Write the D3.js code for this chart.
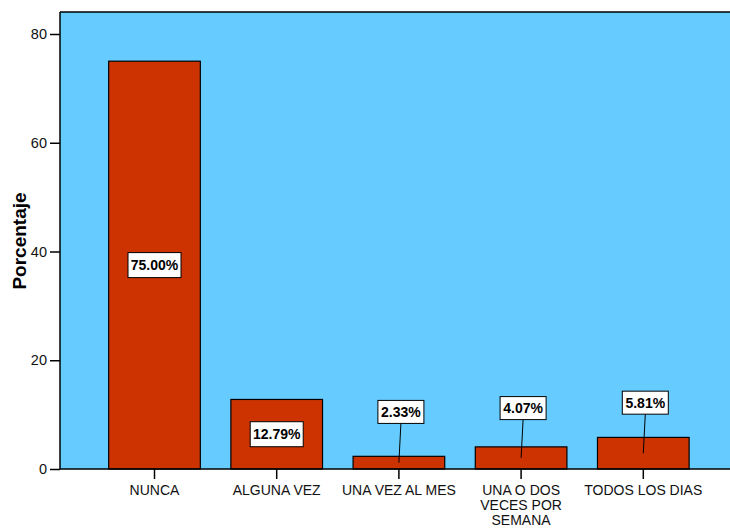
<!DOCTYPE html>
<html><head><meta charset="utf-8">
<script src="https://cdn.jsdelivr.net/npm/d3@7"></script>
<style>body{margin:0;background:#fff}svg{display:block}</style>
</head><body>
<svg id="c" width="730" height="528"></svg>
<script>
const categories = ["NUNCA", "ALGUNA VEZ", "UNA VEZ AL MES", "UNA O DOS VECES POR SEMANA", "TODOS LOS DIAS"];
const categoryLines = [["NUNCA"], ["ALGUNA VEZ"], ["UNA VEZ AL MES"], ["UNA O DOS", "VECES POR", "SEMANA"], ["TODOS LOS DIAS"]];
const values = [75.00, 12.79, 2.33, 4.07, 5.81];
const valueLabels = ["75.00%", "12.79%", "2.33%", "4.07%", "5.81%"];
const yTicks = [0, 20, 40, 60, 80];

const svg = d3.select("#c");
const L = 60, R = 730, T = 12, B = 469;
const font = "Arial, 'Liberation Sans', sans-serif";

const x = d3.scaleBand().domain(categories).range([93.4, 704.4]).paddingInner(0.25).paddingOuter(0.125);
const y = d3.scaleLinear().domain([0, 84]).range([B, B - 84 * (435 / 80)]);

svg.append("rect").attr("x", L).attr("y", T).attr("width", R - L).attr("height", B - T)
  .attr("fill", "#66CCFF");
svg.append("line").attr("x1", L).attr("x2", R).attr("y1", T).attr("y2", T).attr("stroke", "#000").attr("stroke-width", 1.5);

svg.selectAll("rect.bar").data(values).join("rect").attr("class", "bar")
  .attr("x", (d, i) => x(categories[i]))
  .attr("width", x.bandwidth())
  .attr("y", d => y(d))
  .attr("height", d => B - y(d))
  .attr("fill", "#CC3300").attr("stroke", "#000").attr("stroke-width", 1.2);

// y axis
const ya = svg.append("g").attr("transform", `translate(${L},0)`)
  .call(d3.axisLeft(y).tickValues(yTicks).tickSize(10).tickPadding(3));
ya.select(".domain").attr("stroke", "#000").attr("stroke-width", 1.5).attr("d", `M0,${T}V${B}`);
ya.selectAll(".tick line").attr("stroke-width", 1.5);
ya.selectAll(".tick text").attr("font-family", font).attr("font-size", 14.5).attr("fill", "#111");

// x axis
const xa = svg.append("g").attr("transform", `translate(0,${B})`)
  .call(d3.axisBottom(x).tickSize(10).tickFormat(""));
xa.select(".domain").attr("stroke", "#000").attr("stroke-width", 1.5).attr("d", `M${L},0H${R}`);
xa.selectAll(".tick line").attr("stroke-width", 1.5);
categories.forEach((c, i) => {
  const t = svg.append("text").attr("x", x(c) + x.bandwidth() / 2).attr("y", B + 26)
    .attr("text-anchor", "middle").attr("font-family", font).attr("font-size", 14).attr("fill", "#111");
  categoryLines[i].forEach((ln, k) => t.append("tspan").attr("x", x(c) + x.bandwidth() / 2).attr("dy", k ? 15.2 : 0).text(ln));
});

svg.append("text").attr("transform", `translate(26,241) rotate(-90)`).attr("text-anchor", "middle")
  .attr("font-family", font).attr("font-weight", "bold").attr("font-size", 19).text("Porcentaje");

// value labels
const labelAt = [null, null, 10.5, 11.2, 12.2];
const labelDx = [0, 0, 2, 2, 2];
values.forEach((v, i) => {
  const cx = x(categories[i]) + x.bandwidth() / 2;
  const inside = labelAt[i] === null;
  const ly = inside ? y(v / 2) : y(labelAt[i]);
  const lx = cx + labelDx[i];
  const g = svg.append("g");
  const w = inside ? 53 : 46, h = inside ? 25 : 23;
  if (!inside) {
    g.append("line").attr("x1", lx).attr("y1", ly + h / 2).attr("x2", cx).attr("y2", y(v / 2))
      .attr("stroke", "#000").attr("stroke-width", 1);
  }
  g.append("rect").attr("x", lx - w / 2).attr("y", ly - h / 2).attr("width", w).attr("height", h)
    .attr("fill", "#fff").attr("stroke", "#000").attr("stroke-width", 1);
  g.append("text").attr("x", lx).attr("y", ly + 5).attr("text-anchor", "middle")
    .attr("font-family", font).attr("font-weight", "bold").attr("font-size", 14)
    .text(valueLabels[i]);
});
</script>
</body></html>
